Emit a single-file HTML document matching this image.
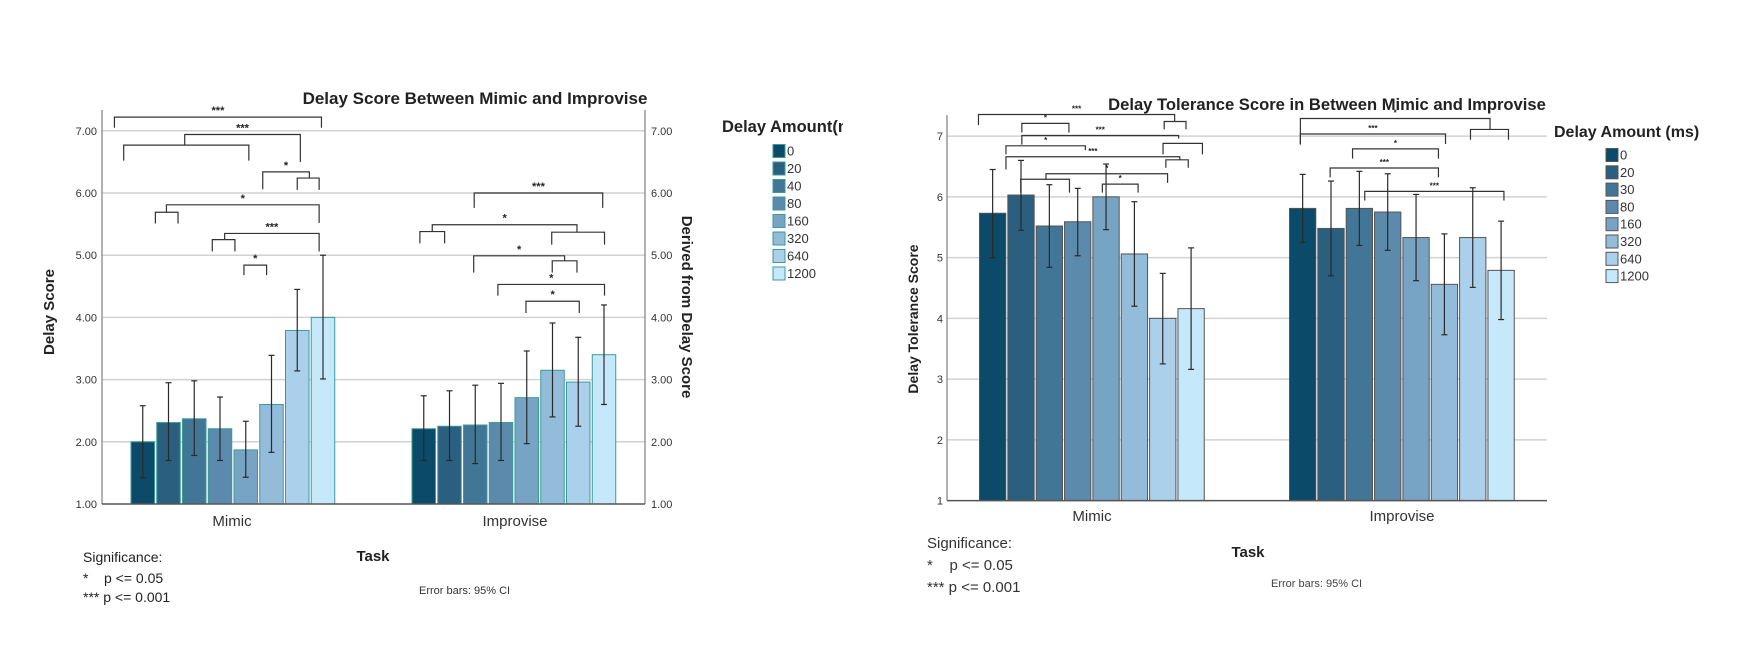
<!DOCTYPE html>
<html><head><meta charset="utf-8">
<style>
html,body{margin:0;padding:0;background:#fff;}
body{width:1764px;height:671px;overflow:hidden;position:relative;font-family:"Liberation Sans",sans-serif;}
svg{position:absolute;left:0;top:0;}
text{white-space:pre;}
</style></head>
<body>
<svg id="chart" width="1764" height="671" viewBox="0 0 1764 671" xmlns="http://www.w3.org/2000/svg">
<defs><clipPath id="legclip"><rect x="700" y="100" width="143" height="200"/></clipPath></defs>
</svg>
<script>
const categories = ["Mimic","Improvise"];
const delaysLeft = ["0","20","40","80","160","320","640","1200"];
const delaysRight = ["0","20","30","80","160","320","640","1200"];
const colors = ["#0b4a68","#2a5f7f","#427696","#5b8aac","#77a3c5","#93bbda","#aad0ec","#c5e8fa"];
const leftMimic = [2.00,2.31,2.37,2.21,1.87,2.60,3.79,4.00];
const leftMimicLo = [1.42,1.70,1.78,1.70,1.43,1.83,3.14,3.01];
const leftMimicHi = [2.58,2.95,2.98,2.72,2.33,3.39,4.45,5.00];
const leftImp = [2.21,2.25,2.27,2.31,2.71,3.15,2.96,3.40];
const leftImpLo = [1.70,1.70,1.65,1.70,1.97,2.40,2.25,2.60];
const leftImpHi = [2.74,2.82,2.91,2.94,3.46,3.91,3.68,4.20];
const rightMimic = [5.73,6.03,5.52,5.59,6.00,5.06,4.00,4.16];
const rightMimicLo = [5.00,5.45,4.84,5.03,5.46,4.20,3.25,3.16];
const rightMimicHi = [6.45,6.60,6.20,6.14,6.54,5.92,4.74,5.16];
const rightImp = [5.81,5.48,5.81,5.75,5.33,4.56,5.33,4.79];
const rightImpLo = [5.25,4.70,5.20,5.12,4.62,3.73,4.51,3.98];
const rightImpHi = [6.37,6.26,6.42,6.38,6.04,5.39,6.15,5.60];
const leftTicks = ["1.00","2.00","3.00","4.00","5.00","6.00","7.00"];
const rightTicks = ["1","2","3","4","5","6","7"];
// brackets: [group, fromBar, toBar, yLevel, leftLegEnd, rightLegEnd, label]
const leftBrackets = [
 [0,-1.1,6.94,7.22,7.05,7.05,"***"],[0,1.63,6.12,6.94,6.77,6.5,"***"],[0,-0.74,4.12,6.77,6.52,6.52,""],
 [0,4.66,6.47,6.34,6.06,6.24,"*"],[0,6.0,6.85,6.24,6.05,6.05,""],[0,0.92,6.85,5.81,5.69,5.52,"*"],
 [0,0.49,1.37,5.69,5.51,5.51,""],[0,3.18,6.85,5.35,5.25,5.06,"***"],[0,2.7,3.58,5.25,5.06,5.06,""],
 [0,3.93,4.81,4.84,4.68,4.68,"*"],
 [1,1.96,6.95,6.0,5.76,5.76,"***"],[1,0.33,5.95,5.49,5.38,5.37,"*"],[1,-0.15,0.81,5.38,5.19,5.19,""],
 [1,4.97,7.02,5.37,5.17,5.17,""],[1,1.94,5.47,4.99,4.72,4.91,"*"],[1,4.99,5.95,4.91,4.72,4.72,""],
 [1,2.88,7.02,4.53,4.35,4.35,"*"],[1,3.97,6.04,4.26,4.07,4.07,"*"]
];
const rightBrackets = [
 [0,-0.5,6.42,7.355,7.18,7.24,"***"],[0,6.05,6.82,7.24,7.11,7.11,""],[0,1.03,2.69,7.21,7.06,7.06,"*"],
 [0,1.03,6.56,7.01,6.86,6.96,"***"],[0,0.47,3.27,6.84,6.70,6.77,"*"],[0,6.01,7.4,6.88,6.70,6.70,""],
 [0,0.47,6.6,6.66,6.45,6.61,"***"],[0,6.11,6.9,6.61,6.48,6.48,""],[0,1.88,6.17,6.38,6.29,6.23,"*"],
 [0,0.99,2.71,6.29,6.07,6.07,""],[0,3.87,5.13,6.21,6.07,6.07,"*"],
 [1,-0.08,6.61,7.29,6.86,7.11,"*"],[1,5.92,7.26,7.11,6.94,6.94,""],[1,-0.08,5.04,7.035,6.87,6.87,"***"],
 [1,1.76,4.79,6.79,6.63,6.63,"*"],[1,0.97,4.79,6.475,6.32,6.32,"***"],[1,2.19,7.1,6.09,5.94,5.94,"***"]
];

const svg = document.getElementById('chart');
const NS = "http://www.w3.org/2000/svg";
const NARROW = '"Liberation Sans Narrow","Liberation Sans",sans-serif';
function mk(tag, attrs, name, text){
  const e = document.createElementNS(NS, tag);
  for (const k in attrs) e.setAttribute(k, attrs[k]);
  
  
  if (text !== undefined) e.textContent = text;
  svg.appendChild(e); return e;
}

function drawChart(cfg){
  const y = v => cfg.y0 - (v - 1) * cfg.unit;
  const barX = (g, i) => cfg.groupStart[g] + i * cfg.slot;
  cfg.ticks.forEach((t, k) => {
    const yy = y(k + 1);
    if (k > 0) mk('line', {x1: cfg.axisX, x2: cfg.axisR, y1: yy, y2: yy, stroke: '#d2d2d2', 'stroke-width': 1.5}, cfg.id + '-gridline');
    mk('text', {x: cfg.tickX, y: yy + 4, 'text-anchor': 'end', 'font-size': cfg.tickSize, fill: '#333', 'font-family': NARROW}, cfg.id + '-y-tick-label', t);
    if (cfg.rightTickX) mk('text', {x: cfg.rightTickX, y: yy + 4, 'font-size': cfg.tickSize, fill: '#333', 'font-family': NARROW}, cfg.id + '-y2-tick-label', t);
  });
  cfg.series.forEach((s, g) => {
    s.vals.forEach((v, i) => {
      const x = barX(g, i);
      mk('rect', {x: x, y: y(v), width: cfg.barW, height: y(1) - y(v), fill: colors[i], stroke: cfg.barStroke, 'stroke-width': 1}, cfg.id + '-bar-' + categories[g].toLowerCase() + '-' + cfg.legend[i]);
    });
    s.vals.forEach((v, i) => {
      const cx = barX(g, i) + cfg.barW / 2;
      mk('line', {x1: cx, x2: cx, y1: y(s.lo[i]), y2: y(s.hi[i]), stroke: '#2a2a2a', 'stroke-width': 1.2}, cfg.id + '-error-bar');
      mk('line', {x1: cx - 3, x2: cx + 3, y1: y(s.lo[i]), y2: y(s.lo[i]), stroke: '#2a2a2a', 'stroke-width': 1.2}, cfg.id + '-error-cap-low');
      mk('line', {x1: cx - 3, x2: cx + 3, y1: y(s.hi[i]), y2: y(s.hi[i]), stroke: '#2a2a2a', 'stroke-width': 1.2}, cfg.id + '-error-cap-high');
    });
  });
  cfg.brackets.forEach(b => {
    const x1 = barX(b[0], b[1]) + cfg.barW / 2, x2 = barX(b[0], b[2]) + cfg.barW / 2;
    const p = `M${x1},${y(b[4])} L${x1},${y(b[3])} L${x2},${y(b[3])} L${x2},${y(b[5])}`;
    mk('path', {d: p, fill: 'none', stroke: '#333', 'stroke-width': 1.2}, cfg.id + '-significance-bracket');
    if (b[6]) mk('text', {x: (x1 + x2) / 2, y: y(b[3]) - 3, 'text-anchor': 'middle', 'font-size': cfg.starSize, 'font-weight': 'bold', fill: '#222'}, cfg.id + '-significance-label', b[6]);
  });
  mk('line', {x1: cfg.axisX, x2: cfg.axisX, y1: cfg.axisTop, y2: y(1), stroke: '#666', 'stroke-width': 1}, cfg.id + '-y-axis');
  if (cfg.rightTickX) mk('line', {x1: cfg.axisR, x2: cfg.axisR, y1: cfg.axisTop, y2: y(1), stroke: '#666', 'stroke-width': 1}, cfg.id + '-y2-axis');
  mk('line', {x1: cfg.axisX, x2: cfg.axisR, y1: y(1), y2: y(1), stroke: '#555', 'stroke-width': 1.5}, cfg.id + '-x-axis');
  categories.forEach((c, g) => {
    mk('text', {x: cfg.catX[g], y: cfg.catY, 'text-anchor': 'middle', 'font-size': 15, fill: '#333', 'font-family': NARROW}, cfg.id + '-x-category-' + c.toLowerCase(), c);
  });
  const lg = cfg.legendPos;
  const tAttrs = {x: lg.tx, y: lg.ty, 'font-size': lg.tsize, 'font-weight': 'bold', fill: '#222'};
  if (lg.clip) tAttrs['clip-path'] = lg.clip;
  mk('text', tAttrs, cfg.id + '-legend-title', lg.title);
  cfg.legend.forEach((d, i) => {
    const yy = lg.sy + i * lg.step;
    mk('rect', {x: lg.sx, y: yy - 6, width: 12, height: 13, fill: colors[i], stroke: cfg.barStroke, 'stroke-width': 1}, cfg.id + '-legend-swatch');
    mk('text', {x: lg.sx + 14, y: yy + 5, 'font-size': 13, fill: '#333', 'font-family': NARROW}, cfg.id + '-legend-label', d);
  });
}

drawChart({id:'left', y0:504, unit:62.2, groupStart:[131,412], slot:25.75, barW:23.5, barStroke:'#3c9a9a',
  axisX:102, axisR:645, axisTop:110, tickX:97, rightTickX:651, tickSize:11, starSize:11,
  ticks:leftTicks, legend:delaysLeft,
  series:[{vals:leftMimic,lo:leftMimicLo,hi:leftMimicHi},{vals:leftImp,lo:leftImpLo,hi:leftImpHi}],
  brackets:leftBrackets, catX:[232,515], catY:526,
  legendPos:{title:'Delay Amount(ms)', tx:722, ty:132, tsize:16.5, sx:773, sy:150.5, step:17.5, clip:'url(#legclip)'}});
drawChart({id:'right', y0:500.6, unit:60.75, groupStart:[979.5,1289.5], slot:28.35, barW:26.3, barStroke:'#555',
  axisX:947, axisR:1547, axisTop:115, tickX:943, rightTickX:null, tickSize:11, starSize:8,
  ticks:rightTicks, legend:delaysRight,
  series:[{vals:rightMimic,lo:rightMimicLo,hi:rightMimicHi},{vals:rightImp,lo:rightImpLo,hi:rightImpHi}],
  brackets:rightBrackets, catX:[1092,1402], catY:521,
  legendPos:{title:'Delay Amount (ms)', tx:1554, ty:137, tsize:16, sx:1606, sy:154.5, step:17.3}});

mk('text',{x:475,y:104,'text-anchor':'middle','font-size':17,'font-weight':'bold',fill:'#222'},'left-chart-title','Delay Score Between Mimic and Improvise');
mk('text',{x:0,y:0,transform:'translate(54,312) rotate(-90)','text-anchor':'middle','font-size':15,'font-weight':'bold',fill:'#222'},'left-y-axis-title','Delay Score');
mk('text',{x:0,y:0,transform:'translate(682,307) rotate(90)','text-anchor':'middle','font-size':15,'font-weight':'bold',fill:'#222'},'left-y2-axis-title','Derived from Delay Score');
mk('text',{x:373,y:561,'text-anchor':'middle','font-size':15,'font-weight':'bold',fill:'#222'},'left-x-axis-title','Task');
mk('text',{x:83,y:562,'font-size':14,fill:'#222','font-family':NARROW},'left-significance-heading','Significance:');
mk('text',{x:83,y:583,'font-size':14,fill:'#222','font-family':NARROW},'left-significance-single','*    p <= 0.05');
mk('text',{x:83,y:602,'font-size':14,fill:'#222','font-family':NARROW},'left-significance-triple','*** p <= 0.001');
mk('text',{x:419,y:594,'font-size':11,fill:'#333','font-family':NARROW},'left-error-bar-note','Error bars: 95% CI');

mk('text',{x:1327,y:110,'text-anchor':'middle','font-size':16.6,'font-weight':'bold',fill:'#222'},'right-chart-title','Delay Tolerance Score in Between Mimic and Improvise');
mk('text',{x:0,y:0,transform:'translate(918,319) rotate(-90)','text-anchor':'middle','font-size':14,'font-weight':'bold',fill:'#222'},'right-y-axis-title','Delay Tolerance Score');
mk('text',{x:1248,y:557,'text-anchor':'middle','font-size':15,'font-weight':'bold',fill:'#222'},'right-x-axis-title','Task');
mk('text',{x:927,y:548,'font-size':15,fill:'#333','font-family':NARROW},'right-significance-heading','Significance:');
mk('text',{x:927,y:570,'font-size':15,fill:'#333','font-family':NARROW},'right-significance-single','*    p <= 0.05');
mk('text',{x:927,y:592,'font-size':15,fill:'#333','font-family':NARROW},'right-significance-triple','*** p <= 0.001');
mk('text',{x:1271,y:587,'font-size':11,fill:'#444','font-family':NARROW},'right-error-bar-note','Error bars: 95% CI');
</script>
</body></html>
